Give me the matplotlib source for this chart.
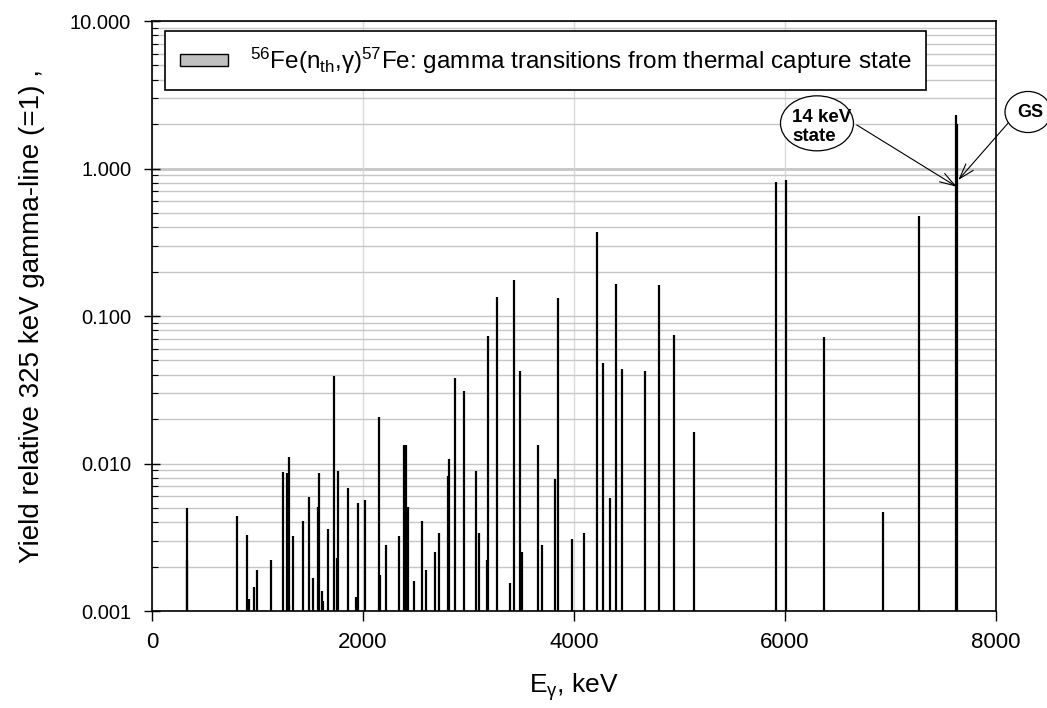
import matplotlib
matplotlib.use("Agg")
from matplotlib import pyplot as plt
from matplotlib.patches import Ellipse, Patch
from matplotlib.ticker import FixedLocator, FormatStrFormatter, LogLocator, NullFormatter

# gamma line energies (keV) and yields relative to the 325 keV line
energies = [
    329, 335, 809, 897, 919, 970, 992, 1128, 1238, 1276, 1295, 1302, 1333,
    1428, 1485, 1526, 1570, 1583, 1610, 1624, 1668, 1722, 1750, 1763, 1858,
    1931, 1956, 2019, 2152, 2165, 2218, 2338, 2386, 2407, 2423, 2483, 2559,
    2597, 2680, 2720, 2803, 2815, 2872, 2954, 3071, 3097, 3173, 3182, 3267,
    3393, 3434, 3485, 3504, 3659, 3697, 3823, 3848, 3981, 4095, 4215, 4272,
    4341, 4401, 4458, 4673, 4806, 4945, 5138, 5912, 6013, 6375, 6932, 7270,
    7621, 7634,
]
yields = [
    0.0050, 0.0022, 0.0044, 0.0033, 0.0012, 0.00145, 0.0019, 0.0022, 0.0088,
    0.0086, 0.0110, 0.0011, 0.0032, 0.0041, 0.0059, 0.00167, 0.0051, 0.0086,
    0.00137, 0.00116, 0.0036, 0.039, 0.0023, 0.0089, 0.0068, 0.00125, 0.0054,
    0.0057, 0.0206, 0.00175, 0.0028, 0.0032, 0.0133, 0.0133, 0.0051, 0.0016,
    0.0041, 0.0019, 0.0025, 0.0034, 0.0082, 0.0107, 0.038, 0.031, 0.0089,
    0.0034, 0.0022, 0.073, 0.135, 0.00154, 0.175, 0.0426, 0.0025, 0.0133,
    0.0028, 0.0079, 0.133, 0.0031, 0.0034, 0.371, 0.048, 0.0058, 0.165,
    0.0437, 0.0426, 0.162, 0.074, 0.0163, 0.81, 0.83, 0.072, 0.0047, 0.48,
    2.31, 2.0,
]

x_ticks = [0, 2000, 4000, 6000, 8000]
y_ticks = [0.001, 0.01, 0.1, 1, 10]
legend_label = r"$^{56}$Fe(n$_{\rm th}$,$\gamma$)$^{57}$Fe: gamma transitions from thermal capture state"

plt.rcParams["font.family"] = ["Liberation Sans", "DejaVu Sans"]
plt.rcParams["mathtext.fontset"] = "custom"
plt.rcParams["mathtext.rm"] = "Liberation Sans"
plt.rcParams["mathtext.it"] = "Liberation Sans:italic"
plt.rcParams["mathtext.bf"] = "Liberation Sans:bold"
plt.rcParams["mathtext.default"] = "regular"

fig = plt.figure(figsize=(10.47, 7.08), dpi=100)
ax = fig.add_axes([0.1452, 0.137, 0.806, 0.8333])

ax.set_yscale("log")
ax.set_xlim(0, 8000)
ax.set_ylim(0.001, 10)

# grid
ax.yaxis.set_minor_locator(LogLocator(base=10, subs=range(2, 10)))
ax.yaxis.set_minor_formatter(NullFormatter())
ax.grid(True, which="both", axis="y", color="#c6c6c6", lw=1.0, zorder=0)
ax.xaxis.set_major_locator(FixedLocator(x_ticks))
ax.grid(True, which="major", axis="x", color="#dadada", lw=1.0, zorder=0)
ax.axhline(1.0, color="black", lw=1.0, zorder=1)

# lines
ax.vlines(energies, 0.001, yields, colors="black", lw=1.6, zorder=3)

ax.yaxis.set_major_locator(FixedLocator(y_ticks))
ax.yaxis.set_major_formatter(FormatStrFormatter("%.3f"))
ax.tick_params(axis="y", which="major", direction="inout", length=12, width=1.0, labelsize=14.5, pad=9)
ax.tick_params(axis="y", which="minor", direction="in", length=4, width=0.8)
ax.tick_params(axis="x", which="major", direction="out", length=7, width=1.0, labelsize=16, pad=8)
for s in ax.spines.values():
    s.set_linewidth(1.2)

ax.set_xlabel(r"E$_\gamma$, keV", fontsize=19, labelpad=13)
ax.set_ylabel("Yield relative 325 keV gamma-line (=1) ,", fontsize=20, labelpad=18)

handle = Patch(facecolor="#c0c0c0", edgecolor="black", lw=1.0)
leg = ax.legend(
    [handle], [legend_label], loc="upper left", bbox_to_anchor=(0.0154, 0.983),
    borderaxespad=0, fontsize=17.5, fancybox=False, framealpha=1, edgecolor="black",
    handlelength=2.0, handleheight=0.4, handletextpad=0.9, borderpad=0.6,
)
leg.get_frame().set_linewidth(1.2)

# annotations: ellipse labels with arrows pointing at the capture lines
ell1 = Ellipse((0.7803, 0.8258), 0.0697, 0.0777, transform=fig.transFigure,
               facecolor="white", edgecolor="black", lw=0.9, zorder=5)
ell2 = Ellipse((0.9819, 0.8418), 0.0440, 0.0580, transform=fig.transFigure,
               facecolor="white", edgecolor="black", lw=0.9, zorder=5)
fig.patches.extend([ell1, ell2])
fig.text(0.785, 0.8205, "14 keV\nstate", ha="center", va="center", fontsize=13.5,
         fontweight="bold", linespacing=1.15, multialignment="left", zorder=6)
fig.text(0.984, 0.8418, "GS", ha="center", va="center", fontsize=13, fontweight="bold", zorder=6)

arrow = dict(arrowstyle="->,head_length=1.1,head_width=0.35", color="black", lw=0.8, shrinkA=0, shrinkB=0)
ax.annotate("", xy=(7628, 0.753), xycoords="data", xytext=(0.8183, 0.8235),
            textcoords="figure fraction", arrowprops=arrow, annotation_clip=False)
ax.annotate("", xy=(7643, 0.835), xycoords="data", xytext=(0.9640, 0.8281),
            textcoords="figure fraction", arrowprops=arrow, annotation_clip=False)

fig.savefig("out.png", dpi=100)
